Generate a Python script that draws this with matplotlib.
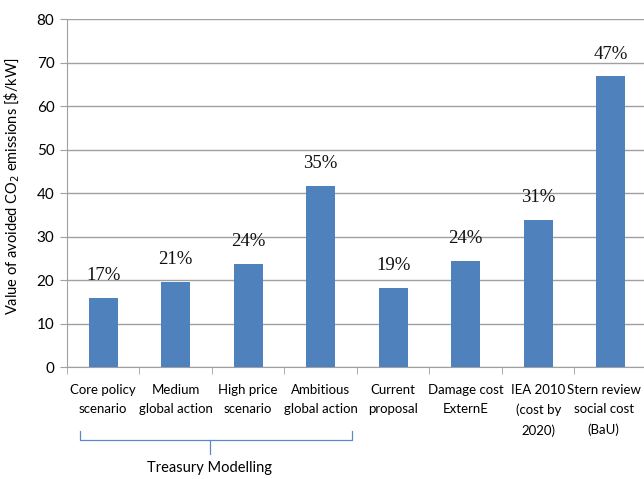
import numpy as np
import matplotlib.pyplot as plt
import matplotlib.transforms as mtransforms

categories = ["Core policy\nscenario", "Medium\nglobal action", "High price\nscenario",
              "Ambitious\nglobal action", "Current\nproposal", "Damage cost\nExternE",
              "IEA 2010\n(cost by\n2020)", "Stern review\nsocial cost\n(BaU)"]
values = [15.8, 19.5, 23.6, 41.7, 18.2, 24.4, 33.8, 66.8]
pct_labels = ["17%", "21%", "24%", "35%", "19%", "24%", "31%", "47%"]
group_label = "Treasury Modelling"

plt.rcParams['font.family'] = ['Lato', 'DejaVu Sans']

fig = plt.figure(figsize=(6.44, 4.79), dpi=100)
ax = fig.add_axes([0.104, 0.2338, 0.9006, 0.7265])

x = np.arange(len(values))
bar_color = '#4f81bd'
ax.bar(x, values, width=0.4, color=bar_color, zorder=3)

for xi, v, lab in zip(x, values, pct_labels):
    ax.annotate(lab, (xi, v), xytext=(0, 10), textcoords='offset points',
                ha='center', va='bottom', fontsize=13.5,
                family=['Liberation Serif', 'DejaVu Serif'], color='#111111')

ax.set_xlim(-0.5, len(values) - 0.5)
ax.set_ylim(0, 80)
ax.set_yticks(np.arange(0, 81, 10))
ax.yaxis.grid(True, color='#a0a0a0', linewidth=1.0, zorder=0)
ax.set_axisbelow(True)

for s in ['top', 'right']:
    ax.spines[s].set_visible(False)
ax.spines['left'].set_color('#a0a0a0')
ax.spines['bottom'].set_color('#a0a0a0')

# category labels centered, tick marks at category boundaries
ax.set_xticks(x)
ax.set_xticklabels(categories, fontsize=9.5, linespacing=1.75, va='top')
ax.tick_params(axis='x', length=0, pad=12)
ax.set_xticks(np.arange(-0.5, len(values), 1.0), minor=True)
ax.tick_params(axis='x', which='minor', length=5, color='#a0a0a0')
ax.tick_params(axis='y', length=5, color='#a0a0a0', labelsize=11, pad=4)

# nudge the last label so it stays inside the figure edge
last = ax.get_xticklabels()[-1]
last.set_transform(last.get_transform() + mtransforms.ScaledTranslation(-5 / 72, 0, fig.dpi_scale_trans))

ax.set_ylabel("Value of avoided CO$_2$ emissions [\\$/kW]", fontsize=10.5)
ax.yaxis.set_label_coords(-0.078, 0.52)

# bracket under the first four categories
trans = mtransforms.blended_transform_factory(ax.transData, ax.transAxes)
bx0, bx1, bmid = -0.32, 3.43, 1.47
ytop, ybase, ytip = -0.183, -0.21, -0.25
bcol = '#5b8ac6'
ax.plot([bx0, bx0, bx1, bx1], [ytop, ybase, ybase, ytop], color=bcol, lw=0.9,
        transform=trans, clip_on=False)
ax.plot([bmid, bmid], [ybase, ytip], color=bcol, lw=0.9, transform=trans, clip_on=False)
ax.text(bmid, -0.29, group_label, transform=trans, ha='center', va='center', fontsize=10.5)

fig.savefig("out.png", dpi=100)
